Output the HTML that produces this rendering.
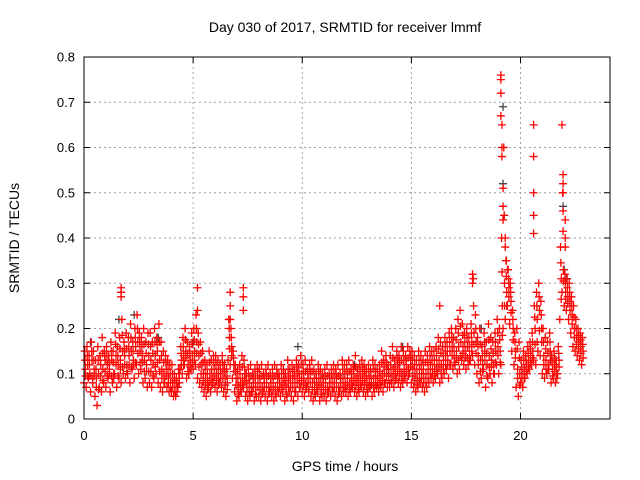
<!DOCTYPE html>
<html><head><meta charset="utf-8"><style>
body{margin:0;background:#fff}
svg{display:block;font-family:"Liberation Sans",sans-serif}
</style></head><body>
<svg id="c" width="640" height="480">
<text x="345" y="32" text-anchor="middle" font-size="14">Day 030 of 2017, SRMTID for receiver lmmf</text>
<text x="345" y="471" text-anchor="middle" font-size="14">GPS time / hours</text>
<text transform="translate(19,238) rotate(-90)" text-anchor="middle" font-size="14">SRMTID / TECUs</text>
<g id="grid"></g><g id="ticks"></g><g id="gray"></g><g id="red"></g>
<rect x="84" y="57" width="526" height="362" fill="none" stroke="#000" stroke-width="1"/>
</svg>
<script>
const xTicks=[0,5,10,15,20];
const yTicks=[0,0.1,0.2,0.3,0.4,0.5,0.6,0.7,0.8];
const yTickLabels=["0","0.1","0.2","0.3","0.4","0.5","0.6","0.7","0.8"];
const lo=[.08,.07,.09,.06,.08,.05,.03,.07,.06,.08,.07,.09,.06,.08,.10,.07,.09,.08,.10,.09,.10,.08,.11,.09,.12,.10,.11,.08,.09,.07,.08,.07,.09,.10,.08,.07,.06,.08,.07,.06,.06,.05,.05,.07,.11,.10,.12,.09,.10,.11,.11,.12,.09,.08,.07,.06,.05,.07,.06,.08,.07,.06,.08,.07,.06,.05,.13,.12,.09,.06,.04,.05,.06,.07,.05,.04,.05,.06,.04,.05,.05,.04,.06,.05,.04,.06,.05,.04,.05,.06,.05,.06,.04,.05,.06,.05,.04,.06,.05,.07,.06,.05,.07,.06,.05,.04,.05,.06,.04,.05,.05,.04,.06,.05,.06,.05,.04,.06,.05,.06,.06,.05,.06,.07,.06,.05,.06,.07,.06,.05,.06,.07,.05,.06,.07,.06,.07,.06,.08,.07,.07,.08,.07,.09,.08,.07,.08,.09,.08,.10,.08,.07,.06,.07,.08,.07,.06,.07,.08,.09,.08,.09,.10,.08,.09,.10,.11,.09,.12,.11,.12,.10,.11,.13,.12,.11,.12,.13,.14,.12,.10,.08,.09,.11,.07,.09,.10,.08,.10,.12,.10,.12,.20,.22,.25,.21,.15,.12,.07,.05,.08,.07,.09,.10,.11,.12,.13,.12,.15,.14,.10,.09,.10,.11,.08,.09,.08,.10,.22,.28,.25,.24,.22,.19,.16,.15,.14,.13,.12];
const hi=[.15,.16,.14,.17,.15,.13,.16,.14,.18,.15,.16,.14,.17,.15,.19,.16,.18,.22,.17,.19,.18,.21,.17,.20,.23,.19,.18,.20,.17,.19,.19,.17,.20,.18,.21,.17,.15,.14,.13,.12,.12,.10,.09,.11,.16,.18,.20,.17,.16,.19,.20,.23,.19,.17,.15,.13,.12,.15,.13,.14,.14,.13,.12,.14,.12,.11,.22,.20,.15,.12,.11,.12,.14,.13,.10,.11,.12,.10,.11,.12,.11,.12,.10,.11,.12,.10,.11,.12,.11,.10,.12,.11,.10,.13,.11,.12,.11,.13,.12,.14,.12,.13,.11,.12,.13,.11,.10,.12,.11,.10,.11,.12,.10,.11,.12,.11,.12,.10,.13,.12,.12,.13,.11,.12,.14,.11,.12,.13,.12,.11,.12,.11,.13,.12,.11,.12,.15,.13,.14,.12,.14,.16,.13,.15,.14,.16,.15,.14,.16,.15,.15,.14,.13,.15,.14,.13,.15,.14,.16,.15,.15,.16,.18,.17,.16,.18,.17,.19,.20,.18,.20,.22,.24,.21,.19,.20,.18,.21,.31,.23,.18,.20,.16,.19,.17,.21,.18,.17,.19,.22,.20,.40,.60,.35,.33,.30,.24,.19,.20,.17,.13,.15,.14,.16,.17,.19,.25,.28,.30,.26,.20,.18,.17,.19,.14,.15,.13,.16,.38,.50,.32,.31,.30,.27,.25,.22,.20,.19,.18];
const mid=[.11,.12,.10,.13,.11,.09,.10,.12,.11,.13,.12,.11,.13,.10,.14,.12,.13,.15,.14,.12,.14,.15,.13,.16,.17,.15,.14,.13,.12,.14,.13,.12,.14,.15,.13,.11,.10,.11,.09,.08,.08,.07,.07,.09,.13,.14,.15,.12,.13,.14,.15,.17,.14,.12,.10,.09,.08,.10,.09,.11,.10,.09,.10,.11,.09,.08,.18,.16,.12,.09,.07,.08,.09,.10,.07,.08,.07,.08,.07,.09,.08,.07,.08,.09,.07,.08,.08,.07,.09,.08,.08,.09,.07,.09,.08,.09,.08,.10,.09,.10,.09,.08,.09,.10,.08,.07,.08,.09,.07,.08,.08,.07,.08,.09,.08,.09,.07,.08,.09,.08,.09,.08,.09,.10,.09,.08,.09,.10,.09,.08,.09,.08,.09,.09,.08,.09,.10,.10,.11,.10,.10,.11,.10,.12,.11,.10,.11,.12,.11,.13,.11,.10,.09,.11,.10,.09,.10,.11,.12,.11,.11,.12,.13,.12,.13,.14,.13,.15,.16,.14,.15,.16,.17,.16,.15,.16,.14,.17,.19,.17,.14,.13,.12,.15,.12,.14,.13,.12,.15,.16,.15,.25,.30,.28,.29,.26,.20,.15,.11,.10,.10,.11,.12,.13,.14,.15,.20,.22,.24,.20,.14,.13,.12,.15,.11,.12,.10,.13,.31,.33,.28,.27,.26,.23,.20,.18,.17,.16,.15];
const spikeT=[1.7,1.7,1.7,5.2,5.2,6.7,6.7,6.7,7.3,7.3,7.3,16.3,17.8,17.8,19.1,19.1,19.1,19.1,19.15,19.15,19.15,19.2,19.2,19.2,19.3,19.3,19.35,19.4,20.6,20.6,20.6,20.6,20.6,21.9,21.95,21.95,21.95,21.95,22.05,22.05,22.05];
const spikeV=[.27,.28,.29,.29,.24,.28,.25,.22,.29,.27,.24,.25,.32,.30,.76,.75,.72,.67,.65,.60,.58,.51,.47,.44,.40,.38,.35,.33,.65,.58,.50,.45,.41,.65,.54,.52,.50,.46,.44,.40,.38];
const grayT=[0.3,1.6,2.3,3.4,5.0,9.8,12.4,14.6,18.2,19.2,19.2,19.25,21.95,22.0,22.1];
const grayV=[.17,.22,.23,.18,.17,.16,.12,.16,.2,.69,.52,.45,.47,.33,.31];
const X=v=>84+v*(526/24.1), Y=v=>419-v*(362/0.8);
const NS="http://www.w3.org/2000/svg";
function mk(tag,attrs,parent){const e=document.createElementNS(NS,tag);for(const k in attrs)e.setAttribute(k,attrs[k]);parent.appendChild(e);return e;}
const grid=document.getElementById('grid'),tk=document.getElementById('ticks');
xTicks.forEach(t=>{
 const x=X(t);
 if(t>0){const g=mk('line',{x1:x,x2:x,y1:57,y2:419,stroke:'#a0a0a0','stroke-dasharray':'2,3'},grid);
 
 }
 mk('line',{x1:x,x2:x,y1:419,y2:413,stroke:'#000'},tk);
 mk('line',{x1:x,x2:x,y1:57,y2:63,stroke:'#000'},tk);
 const l=mk('text',{x:x,y:440,'text-anchor':'middle','font-size':13},tk);l.textContent=t;
 
 
});
yTicks.forEach((t,i)=>{
 const y=Y(t);
 if(i>0&&i<yTicks.length-1){const g=mk('line',{x1:84,x2:610,y1:y,y2:y,stroke:'#a0a0a0','stroke-dasharray':'2,3'},grid);
 
 }
 mk('line',{x1:84,x2:90,y1:y,y2:y,stroke:'#000'},tk);
 mk('line',{x1:604,x2:610,y1:y,y2:y,stroke:'#000'},tk);
 const l=mk('text',{x:75,y:y+4.5,'text-anchor':'end','font-size':13},tk);l.textContent=yTickLabels[i];
 
 
});
function plus(t,v,col,parent,name){
 const x=X(t),y=Y(v);
 const p=mk('path',{d:`M${x-4},${y}h8M${x},${y-4}v8`,stroke:col,'stroke-width':1.3,fill:'none'},parent);
 
 
}
const gG=document.getElementById('gray'),gR=document.getElementById('red');
grayT.forEach((t,i)=>plus(t,grayV[i],'#444',gG,'gray-point'));
[lo,hi,mid].forEach((arr,k)=>arr.forEach((v,i)=>{plus(i*0.1+k*0.033,v,'#f00',gR,'red-point');}));
mid.forEach((v,i)=>{plus(i*0.1+0.066,(v+lo[i])/2,'#f00',gR,'red-point');plus(i*0.1+0.05,(v+hi[i])/2,'#f00',gR,'red-point');});
spikeT.forEach((t,i)=>plus(t,spikeV[i],'#f00',gR,'red-spike-point'));
</script>
</body></html>
